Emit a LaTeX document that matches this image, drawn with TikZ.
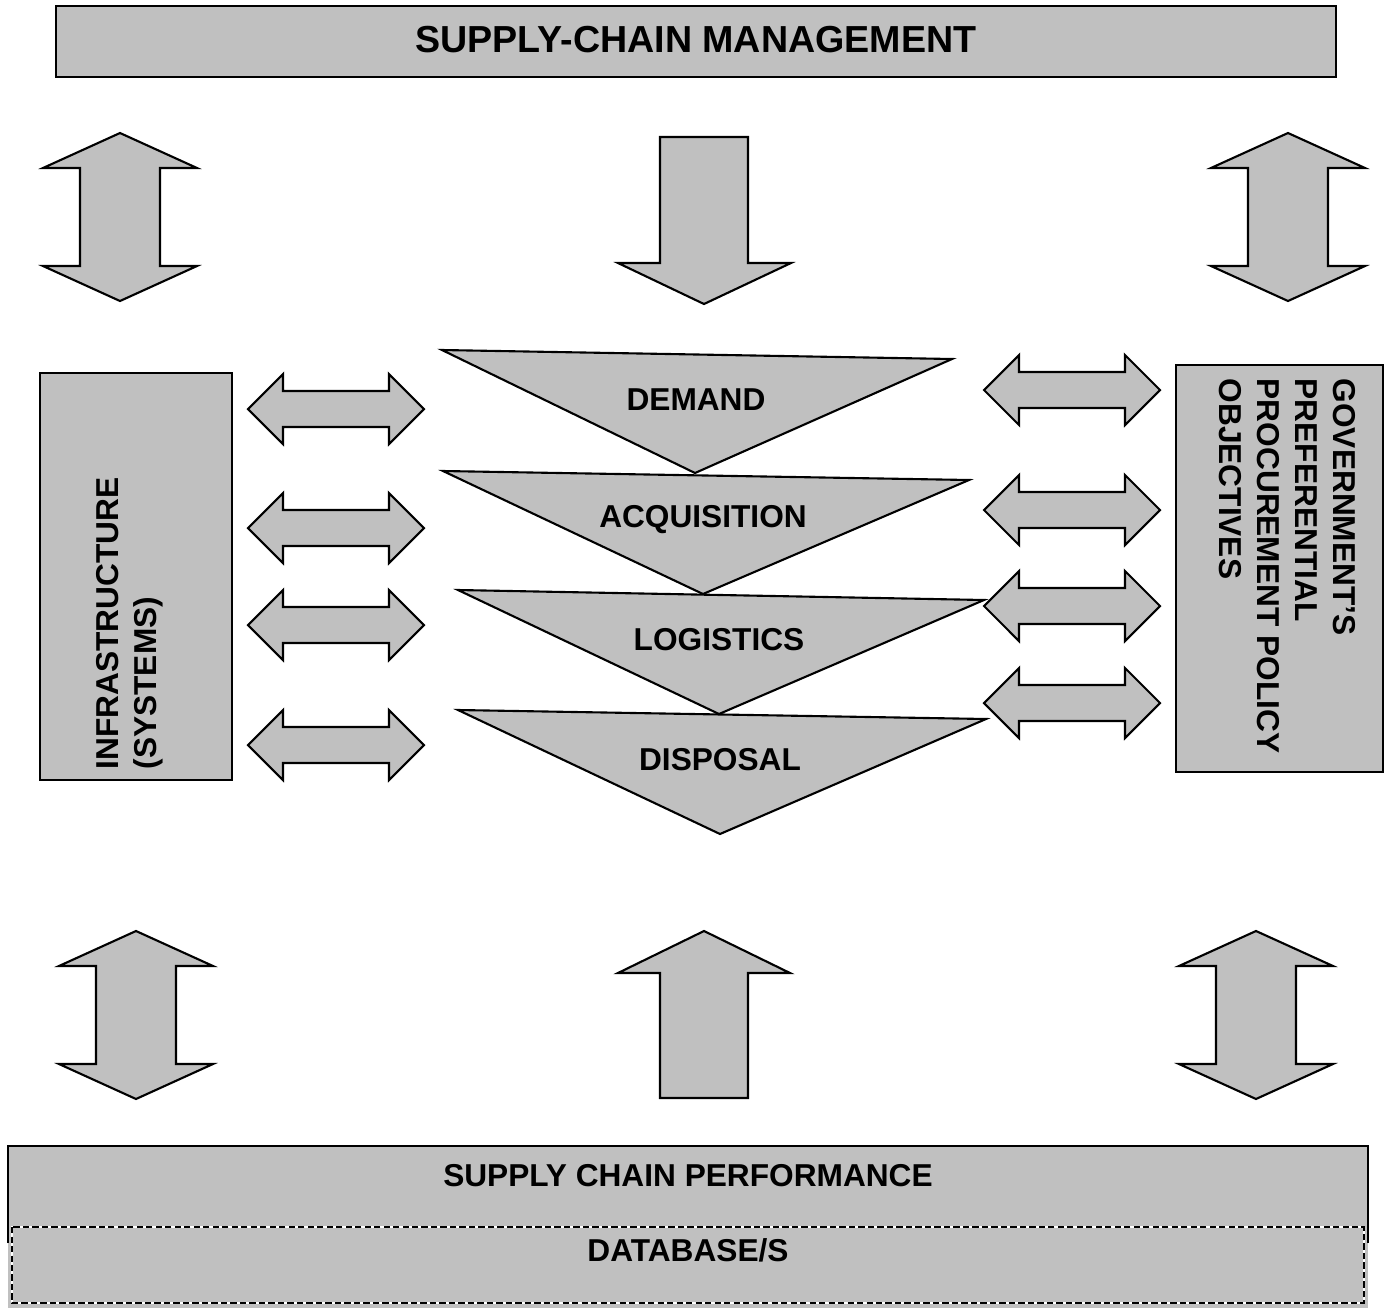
\documentclass[tikz,border=0pt]{standalone}
\usepackage{fontspec}
\setmainfont{Liberation Sans}
\definecolor{sc_grey}{RGB}{192, 192, 192}
\tikzstyle{blk}=[draw=black,fill=sc_grey,line width=0.6pt,line join=miter]
\tikzstyle{lbl}=[font=\fontsize{9}{10.8}\selectfont\bfseries,inner sep=0pt]
\tikzstyle{ttl}=[font=\fontsize{10.7}{12}\selectfont\bfseries,inner sep=0pt]
% vertical double arrow, tip at (#1,#2)
\newcommand{\vdarrow}[2]{\draw[style=blk] (#1,#2) -- ++(77,35) -- ++(-37,0) -- ++(0,98)
  -- ++(37,0) -- ++(-77,35) -- ++(-77,-35) -- ++(37,0) -- ++(0,-98) -- ++(-37,0) -- cycle;}
% horizontal double arrow, left tip at (#1,#2)
\newcommand{\hdarrow}[2]{\draw[style=blk] (#1,#2) -- ++(35,-35) -- ++(0,17) -- ++(106,0)
  -- ++(0,-17) -- ++(35,35) -- ++(-35,35) -- ++(0,-17) -- ++(-106,0) -- ++(0,17) -- cycle;}

\begin{document}
\begin{tikzpicture}[x=0.01cm,y=-0.01cm]
        \useasboundingbox (0,0) rectangle (1390,1308);
        % top
        \node [style=blk,minimum width=12.8cm,minimum height=0.71cm] (scm) at (696,41.5) {};
        \node [style=ttl] (scmtxt) at (696,40) {SUPPLY-CHAIN MANAGEMENT};
        \vdarrow{120}{133}
        \vdarrow{1288}{133}
        \draw [style=blk] (660,137) -- (748,137) -- (748,263) -- (791,263) -- (704,304)
          -- (618,263) -- (660,263) -- cycle;
        % sides
        \node [style=blk,minimum width=1.92cm,minimum height=4.07cm] (infra) at (136,576.5) {};
        \node [style=lbl,rotate=90,anchor=west,align=left] (infratxt) at (130,770)
          {INFRASTRUCTURE\\(SYSTEMS)};
        \node [style=blk,minimum width=2.07cm,minimum height=4.07cm] (gov) at (1279.5,568.5) {};
        \node [style=lbl,rotate=-90,anchor=west,align=left] (govtxt) at (1287,378)
          {GOVERNMENT'S\\PREFERENTIAL\\PROCUREMENT POLICY\\OBJECTIVES};
        \foreach \y in {409,528,625,745} {\hdarrow{248}{\y}}
        \foreach \y in {390,510,606,703} {\hdarrow{984}{\y}}
        % funnel
        \draw [style=blk] (442,350) -- (952,359) -- (695,473) -- cycle;
        \draw [style=blk] (443,471) -- (969,480) -- (703,594) -- cycle;
        \draw [style=blk] (458,590) -- (984,600) -- (719,714) -- cycle;
        \draw [style=blk] (458,710) -- (986,719) -- (720,834) -- cycle;
        \node [style=lbl] (dem) at (696,400) {DEMAND};
        \node [style=lbl] (acq) at (703,520) {ACQUISITION};
        \node [style=lbl] (log) at (719,640) {LOGISTICS};
        \node [style=lbl] (dis) at (720,760) {DISPOSAL};
        % bottom
        \vdarrow{136}{931}
        \vdarrow{1256}{931}
        \draw [style=blk] (704,931) -- (790,973) -- (748,973) -- (748,1098) -- (660,1098)
          -- (660,973) -- (618,973) -- cycle;
        \fill [sc_grey] (8,1146) rectangle (1368,1308);
        \draw [line width=0.6pt] (8,1243) -- (8,1146) -- (1368,1146) -- (1368,1243);
        \draw [white,line width=0.6pt] (12,1227) rectangle (1364,1303);
        \draw [line width=0.6pt,dash pattern=on 1.8pt off 0.9pt] (12,1227) rectangle (1364,1303);
        \node [style=lbl] (perf) at (688,1176) {SUPPLY CHAIN PERFORMANCE};
        \node [style=lbl] (db) at (688,1250) {DATABASE/S};
    \end{tikzpicture}
\end{document}
